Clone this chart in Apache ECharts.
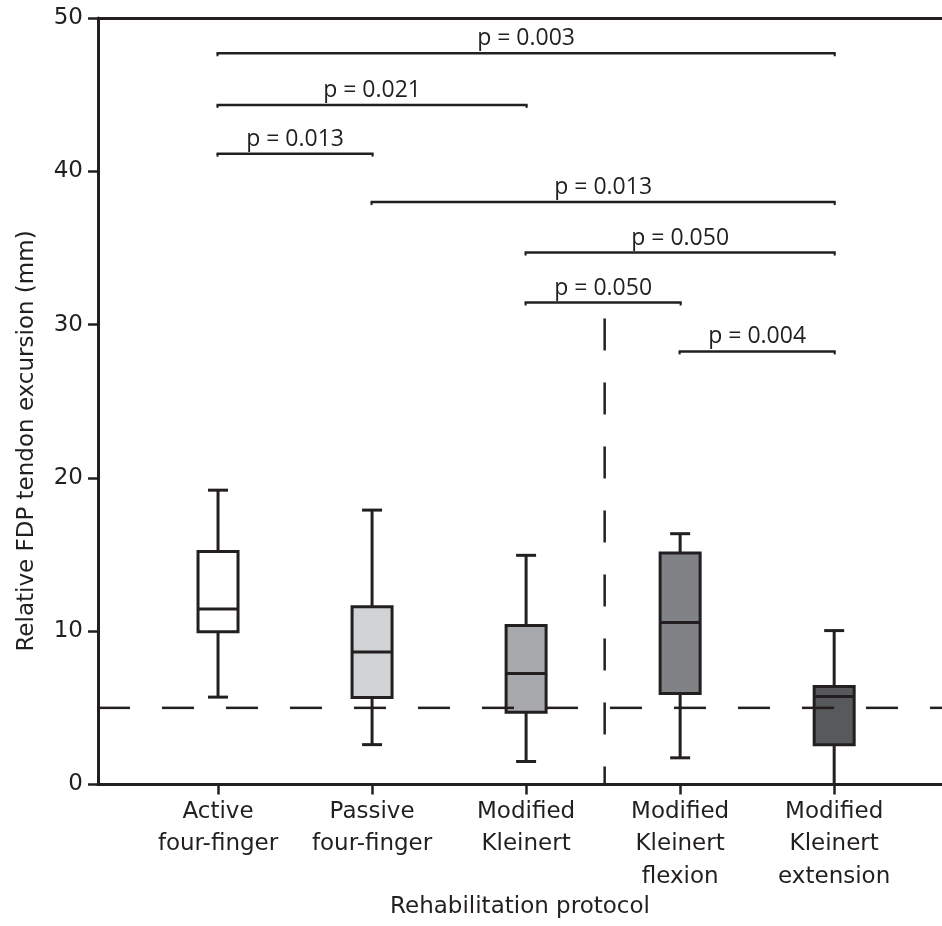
<!DOCTYPE html>
<html>
<head>
<meta charset="utf-8">
<title>Relative FDP tendon excursion by rehabilitation protocol</title>
<script src="https://cdn.jsdelivr.net/npm/echarts@6/dist/echarts.min.js"></script>
<style>
  html, body { margin: 0; padding: 0; background: #ffffff; }
  #chart { width: 942px; height: 926px; }
</style>
</head>
<body>
<div id="chart"></div>
<script>
// Rehabilitation protocols (x positions 1..5)
const categories = [
  'Active\nfour-finger',
  'Passive\nfour-finger',
  'Modified\nKleinert',
  'Modified\nKleinert\nflexion',
  'Modified\nKleinert\nextension'
];

// Box-plot statistics, mm
const whiskerLow  = [5.7, 2.6, 1.5, 1.74, 0.0];
const quartile1   = [9.97, 5.67, 4.71, 5.93, 2.59];
const medianVals  = [11.45, 8.65, 7.24, 10.56, 5.74];
const quartile3   = [15.2, 11.6, 10.37, 15.1, 6.39];
const whiskerHigh = [19.2, 17.9, 14.95, 16.36, 10.04];

// Pairwise comparisons: from protocol, to protocol, bar height, label
const pairFrom  = [1, 1, 1, 2, 3, 3, 4];
const pairTo    = [5, 3, 2, 5, 5, 4, 5];
const pairLevel = [47.7, 44.33, 41.15, 37.99, 34.7, 31.44, 28.25];
const pLabels   = ['p = 0.003', 'p = 0.021', 'p = 0.013', 'p = 0.013', 'p = 0.050', 'p = 0.050', 'p = 0.004'];

// Reference lines
const thresholdLevel = 5;
const dividerX = 3.51;
const dividerTop = 30.4;

// Y axis ticks
const yTicks = [0, 10, 20, 30, 40, 50];

const INK = '#231f20';
const boxFills = ['#ffffff', '#d1d3d4', '#a7a9ac', '#808285', '#58595b'];
const X_MIN = 1 - 120 / 154;
const X_MAX = 5.70;

const boxData = categories.map((c, i) => [
  i + 1, whiskerLow[i], quartile1[i], medianVals[i], quartile3[i], whiskerHigh[i], i
]);
const pairData = pairFrom.map((f, i) => [f, pairTo[i], pairLevel[i], i]);
// Dashed guides: start point, end point (dash pattern begins at the start)
const guideData = [
  [X_MIN, thresholdLevel, X_MAX, thresholdLevel],
  [dividerX, dividerTop, dividerX, 0]
];

function renderBox(params, api) {
  const x = api.value(0);
  const idx = api.value(6);
  const pLow = api.coord([x, api.value(1)]);
  const pQ1 = api.coord([x, api.value(2)]);
  const pMed = api.coord([x, api.value(3)]);
  const pQ3 = api.coord([x, api.value(4)]);
  const pHigh = api.coord([x, api.value(5)]);
  const cx = pLow[0];
  const hw = 20, cap = 10;
  const ls = { stroke: INK, lineWidth: 3 };
  return {
    type: 'group',
    children: [
      { type: 'line', shape: { x1: cx, y1: pLow[1], x2: cx, y2: pQ1[1] }, style: ls },
      { type: 'line', shape: { x1: cx, y1: pQ3[1], x2: cx, y2: pHigh[1] }, style: ls },
      { type: 'line', shape: { x1: cx - cap, y1: pLow[1], x2: cx + cap, y2: pLow[1] }, style: ls },
      { type: 'line', shape: { x1: cx - cap, y1: pHigh[1], x2: cx + cap, y2: pHigh[1] }, style: ls },
      {
        type: 'rect',
        shape: { x: cx - hw, y: pQ3[1], width: hw * 2, height: pQ1[1] - pQ3[1] },
        style: { fill: boxFills[idx], stroke: INK, lineWidth: 3 }
      },
      { type: 'line', shape: { x1: cx - hw, y1: pMed[1], x2: cx + hw, y2: pMed[1] }, style: ls }
    ]
  };
}

function renderGuide(params, api) {
  const a = api.coord([api.value(0), api.value(1)]);
  const b = api.coord([api.value(2), api.value(3)]);
  return {
    type: 'line',
    shape: { x1: a[0], y1: a[1], x2: b[0], y2: b[1] },
    style: { stroke: INK, lineWidth: 2.5, lineDash: [32, 32], lineDashOffset: 0 }
  };
}

function renderPair(params, api) {
  const a = api.coord([api.value(0), api.value(2)]);
  const b = api.coord([api.value(1), api.value(2)]);
  const idx = api.value(3);
  const x1 = a[0] - 1.5, x2 = b[0] + 1.5, y = a[1];
  const ls = { stroke: INK, lineWidth: 2.5 };
  return {
    type: 'group',
    children: [
      { type: 'line', shape: { x1: x1, y1: y, x2: x2, y2: y }, style: ls },
      { type: 'line', shape: { x1: x1 + 1, y1: y, x2: x1 + 1, y2: y + 3 }, style: { stroke: INK, lineWidth: 2 } },
      { type: 'line', shape: { x1: x2 - 1, y1: y, x2: x2 - 1, y2: y + 3 }, style: { stroke: INK, lineWidth: 2 } },
      {
        type: 'text',
        x: (x1 + x2) / 2,
        y: y - 3,
        style: {
          text: pLabels[idx],
          fill: INK,
          font: '23px "Open Sans"',
          align: 'center',
          verticalAlign: 'bottom'
        }
      }
    ]
  };
}

const chart = echarts.init(document.getElementById('chart'), null, { renderer: 'canvas' });

chart.setOption({
  animation: false,
  backgroundColor: '#ffffff',
  grid: { left: 98, right: 0, top: 18, bottom: 141.5, containLabel: false },
  xAxis: [
    {
      type: 'value',
      min: X_MIN,
      max: X_MAX,
      position: 'bottom',
      splitLine: { show: false },
      axisLine: { show: true, lineStyle: { color: INK, width: 3 } },
      axisTick: {
        show: true,
        customValues: [1, 2, 3, 4, 5],
        length: 10,
        lineStyle: { color: INK, width: 2.5 }
      },
      axisLabel: {
        show: true,
        customValues: [1, 2, 3, 4, 5],
        formatter: v => categories[Math.round(v) - 1] || '',
        color: INK,
        fontFamily: 'DejaVu Sans',
        fontSize: 23,
        lineHeight: 32.5,
        margin: 11
      }
    },
    {
      type: 'value',
      min: X_MIN,
      max: X_MAX,
      position: 'top',
      splitLine: { show: false },
      axisLine: { show: true, lineStyle: { color: INK, width: 3 } },
      axisTick: { show: false },
      axisLabel: { show: false }
    }
  ],
  yAxis: {
    type: 'value',
    min: yTicks[0],
    max: yTicks[yTicks.length - 1],
    interval: 10,
    splitLine: { show: false },
    axisLine: { show: true, lineStyle: { color: INK, width: 3 } },
    axisTick: { show: true, length: 10, lineStyle: { color: INK, width: 2.5 } },
    axisLabel: {
      color: INK,
      fontFamily: 'DejaVu Sans',
      fontSize: 23,
      margin: 15
    }
  },
  graphic: [
    {
      type: 'text',
      x: 27,
      y: 441,
      rotation: Math.PI / 2,
      style: {
        text: 'Relative FDP tendon excursion (mm)',
        fill: INK,
        font: '23px "DejaVu Sans"',
        align: 'center',
        verticalAlign: 'middle'
      }
    },
    {
      type: 'text',
      x: 520,
      y: 907,
      style: {
        text: 'Rehabilitation protocol',
        fill: INK,
        font: '23px "DejaVu Sans"',
        align: 'center',
        verticalAlign: 'middle'
      }
    }
  ],
  series: [
    {
      type: 'custom',
      name: 'boxes',
      renderItem: renderBox,
      data: boxData,
      encode: { x: 0, y: [1, 2, 3, 4, 5] },
      z: 2,
      silent: true
    },
    {
      type: 'custom',
      name: 'guides',
      renderItem: renderGuide,
      data: guideData,
      encode: { x: [0, 2], y: [1, 3] },
      clip: false,
      z: 5,
      silent: true
    },
    {
      type: 'custom',
      name: 'comparisons',
      renderItem: renderPair,
      data: pairData,
      encode: { x: [0, 1], y: 2 },
      z: 3,
      silent: true
    }
  ]
});
</script>
</body>
</html>
